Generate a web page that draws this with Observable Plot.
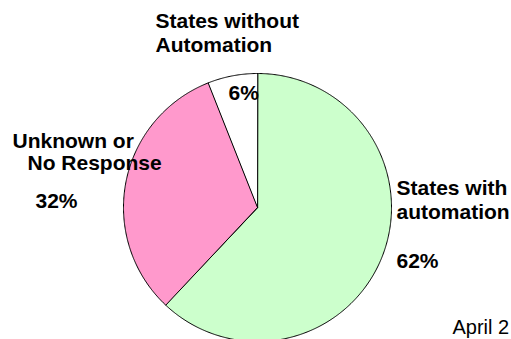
<!DOCTYPE html>
<html>
<head>
<meta charset="utf-8">
<script src="https://cdn.jsdelivr.net/npm/d3@7"></script>
<script src="https://cdn.jsdelivr.net/npm/@observablehq/plot@0.6"></script>
<style>
  html, body { margin: 0; padding: 0; background: #fff; }
  #chart svg { display: block; }
</style>
</head>
<body>
<div id="chart"></div>
<script>
// Data
const categories = ["States with automation", "Unknown or No Response", "States without Automation"];
const values = [62, 32, 6];
const sliceColors = ["#CCFFCC", "#FF99CC", "#FFFFFF"];

// Label texts and anchors (pie units: center 0,0, radius 1)
const labelTexts = ["States with\nautomation", "62%", "Unknown or", "No Response", "32%", "States without\nAutomation", "6%"];
const labelPx = [[396, 218], [396, 267], [12, 147], [27, 169], [35, 207], [155, 51], [228, 99]];
const lineHeights = [1.1, 1, 1, 1, 1, 1.14, 1];
const footnote = "April 2";

const W = 511, H = 339;
const cx = 257, cy = 207, R = 134;

// Build slice polygons from the data via d3.pie
const arcs = d3.pie().sort(null).value(d => d)(values);
const slices = [];
arcs.forEach((a, i) => {
  slices.push({name: categories[i], x: 0, y: 0});
  const n = Math.max(2, Math.ceil((a.endAngle - a.startAngle) / (Math.PI / 360)));
  for (let k = 0; k <= n; ++k) {
    const t = a.startAngle + (a.endAngle - a.startAngle) * k / n;
    slices.push({name: categories[i], x: Math.sin(t), y: Math.cos(t)});
  }
});

const labels = labelTexts.map((t, i) => ({
  text: t,
  x: (labelPx[i][0] - cx) / R,
  y: (cy - labelPx[i][1]) / R,
  lh: lineHeights[i]
}));

const font = "Arial, 'Liberation Sans', sans-serif";

const marks = [
  Plot.line(slices, {x: "x", y: "y", z: "name", fill: "name", stroke: "black", strokeWidth: 1, curve: "linear-closed"}),
];
labels.forEach(l => {
  marks.push(Plot.text([l], {x: "x", y: "y", text: "text", textAnchor: "start", lineAnchor: "bottom",
    lineHeight: l.lh, fontSize: 21, fontWeight: "bold", fill: "black", fontFamily: font}));
});
marks.push(Plot.text([{text: footnote, x: (452 - cx) / R, y: (cy - 333) / R}], {x: "x", y: "y", text: "text",
  textAnchor: "start", lineAnchor: "bottom", fontSize: 20, fill: "black", fontFamily: font}));

const chart = Plot.plot({
  width: W, height: H,
  margin: 0,
  style: {background: "white", fontFamily: font, overflow: "hidden"},
  x: {domain: [-1, 1], range: [cx - R, cx + R], axis: null},
  y: {domain: [-1, 1], range: [cy + R, cy - R], axis: null},
  color: {type: "ordinal", domain: categories, range: sliceColors},
  marks
});
document.getElementById("chart").appendChild(chart);
</script>
</body>
</html>
